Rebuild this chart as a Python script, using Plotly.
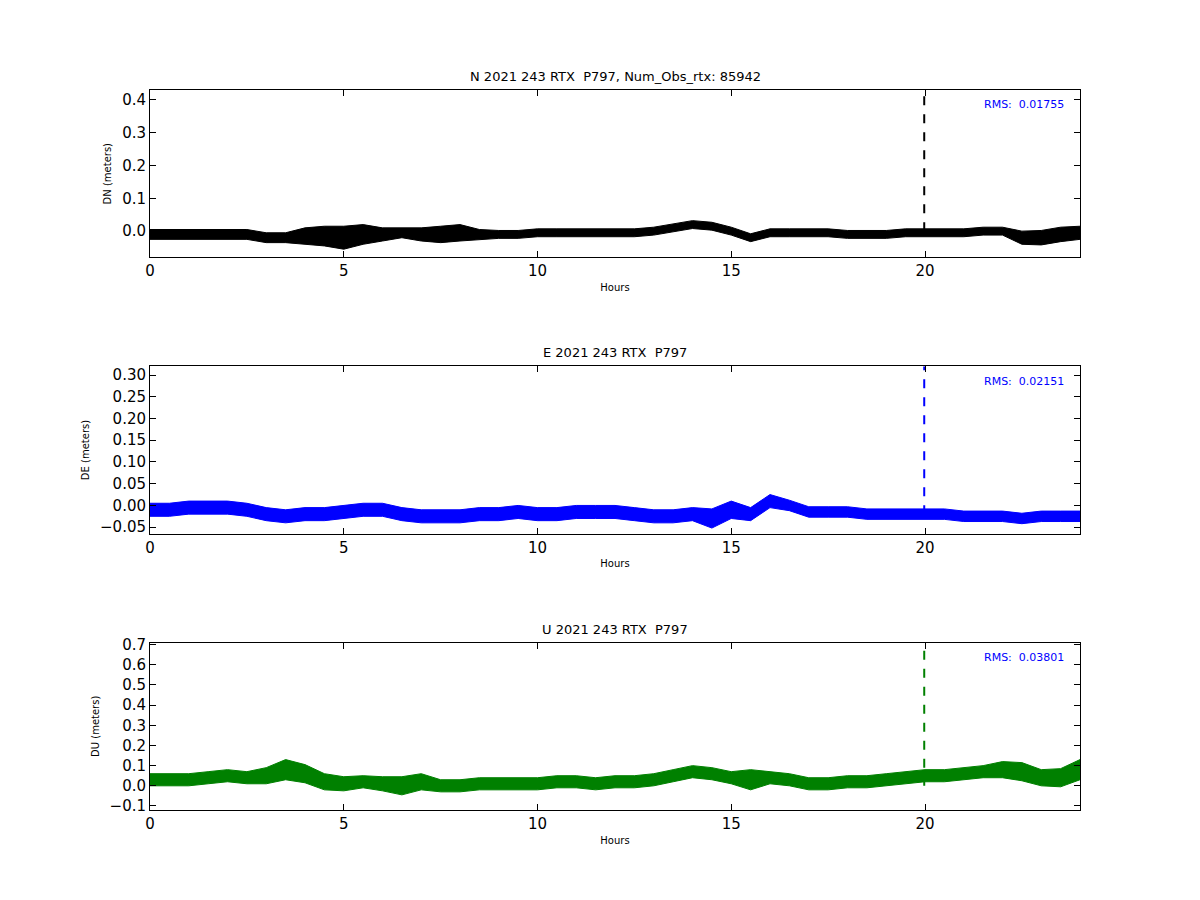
import plotly.graph_objects as go

hours = [i * 0.5 for i in range(49)]

n_center = [-0.01,-0.01,-0.01,-0.01,-0.01,-0.01,-0.02,-0.02,-0.015,-0.015,-0.02,-0.01,-0.01,-0.005,-0.01,-0.01,-0.005,-0.01,-0.01,-0.01,-0.005,-0.005,-0.005,-0.005,-0.005,-0.005,0.0,0.01,0.02,0.015,0.0,-0.02,-0.005,-0.005,-0.005,-0.005,-0.01,-0.01,-0.01,-0.005,-0.005,-0.005,-0.005,0.0,0.0,-0.02,-0.02,-0.01,-0.005]
n_half = [0.015]*8 + [0.025,0.03,0.035,0.03,0.02,0.015,0.02,0.025,0.025,0.015] + [0.012]*27 + [0.02,0.022,0.022,0.02]
e_center = [-0.01,-0.01,-0.005,-0.005,-0.005,-0.01,-0.02,-0.025,-0.02,-0.02,-0.015,-0.01,-0.01,-0.02,-0.025,-0.025,-0.025,-0.02,-0.02,-0.015,-0.02,-0.02,-0.015,-0.015,-0.015,-0.02,-0.025,-0.025,-0.02,-0.03,-0.01,-0.02,0.01,0.0,-0.015,-0.015,-0.015,-0.02,-0.02,-0.02,-0.02,-0.02,-0.025,-0.025,-0.025,-0.03,-0.025,-0.025,-0.025]
e_half = [0.015]*29 + [0.022,0.02,0.015,0.015] + [0.012]*16
u_center = [0.03,0.03,0.03,0.04,0.05,0.04,0.05,0.08,0.06,0.02,0.01,0.02,0.01,0.0,0.02,0.0,0.0,0.01,0.01,0.01,0.01,0.02,0.02,0.01,0.02,0.02,0.03,0.05,0.07,0.06,0.04,0.03,0.04,0.03,0.01,0.01,0.02,0.02,0.03,0.04,0.05,0.05,0.06,0.07,0.08,0.07,0.04,0.04,0.08]
u_half = [0.03]*6 + [0.04,0.05,0.045,0.04,0.035,0.03,0.035,0.045,0.04] + [0.03]*16 + [0.05] + [0.03]*12 + [0.04,0.045,0.04,0.045,0.05,0.06]

spike_hour = 19.98
n_spike = [0.0, 0.43]
e_spike = [-0.02, 0.32]
u_spike = [0.0, 0.70]

off = 8 / 900
panels = [
    ("N 2021 243 RTX  P797, Num_Obs_rtx: 85942", "DN (meters)", n_center, n_half, n_spike, "black", [-0.08, 0.43], 0.1, "RMS:  0.01755", [0.714 + off, 0.9 + off]),
    ("E 2021 243 RTX  P797", "DE (meters)", e_center, e_half, e_spike, "blue", [-0.065, 0.32], 0.05, "RMS:  0.02151", [0.407 + off, 0.593 + off]),
    ("U 2021 243 RTX  P797", "DU (meters)", u_center, u_half, u_spike, "green", [-0.12, 0.71], 0.1, "RMS:  0.03801", [0.1 + off, 0.286 + off]),
]
xdom = [142 / 1200, 1072 / 1200]

fig = go.Figure()
for i, (title, ylab, c, h, sp, col, yr, dt, rms, dom) in enumerate(panels):
    k = "" if i == 0 else str(i + 1)
    lo = [a - b for a, b in zip(c, h)]
    hi = [a + b for a, b in zip(c, h)]
    fig.add_trace(go.Scatter(x=hours, y=lo, mode="lines", line=dict(color=col, width=1),
                             xaxis="x" + k, yaxis="y" + k, showlegend=False))
    fig.add_trace(go.Scatter(x=hours, y=hi, mode="lines", line=dict(color=col, width=1), fill="tonexty",
                             fillcolor=col, xaxis="x" + k, yaxis="y" + k, showlegend=False))
    fig.add_trace(go.Scatter(x=[spike_hour, spike_hour], y=sp, mode="lines",
                             line=dict(color=col, width=2, dash="dash"),
                             xaxis="x" + k, yaxis="y" + k, showlegend=False))
    ax = dict(showline=True, linecolor="black", mirror="ticks", ticks="inside", ticklen=6,
              tickcolor="black", showgrid=False, zeroline=False, automargin=False,
              tickfont=dict(size=15, color="black"))
    fig.layout["xaxis" + k] = dict(ax, domain=xdom, range=[0, 24], dtick=5, anchor="y" + k,
                                   title=dict(text="Hours", font=dict(size=10), standoff=4))
    fig.layout["yaxis" + k] = dict(ax, domain=dom, range=yr, dtick=dt, anchor="x" + k, tickformat=".1f" if dt == 0.1 else ".2f",
                                   title=dict(text=ylab, font=dict(size=10), standoff=8))
    fig.add_annotation(text=title, xref="paper", yref="paper", x=(xdom[0] + xdom[1]) / 2, y=dom[1], yanchor="bottom",
                       showarrow=False, font=dict(size=13, color="black"), yshift=4)
    fig.add_annotation(text=rms, xref="paper", yref="paper", x=xdom[1] - 0.012, y=dom[1] - 0.007, xanchor="right",
                       yanchor="top", showarrow=False, font=dict(size=11, color="blue"))

fig.update_layout(width=1200, height=900, margin=dict(l=0, r=0, t=0, b=0),
                  plot_bgcolor="white", paper_bgcolor="white",
                  font=dict(family="DejaVu Sans", color="black"))
fig.write_html("out.html")
